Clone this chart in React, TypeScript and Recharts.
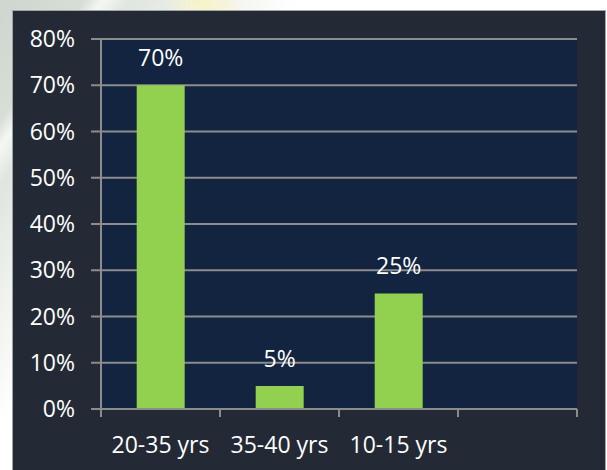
import { BarChart, Bar, XAxis, YAxis, CartesianGrid, LabelList } from 'recharts';

const categories = ['20-35 yrs', '35-40 yrs', '10-15 yrs', ''];
const shares = [70, 5, 25, null];
const yTicks = [0, 10, 20, 30, 40, 50, 60, 70, 80];

const COLORS = {
    frame: '#242a35',
    plot: '#12243f',
    grid: '#8c8c8c',
    bar: '#92d050',
    text: '#ffffff',
};

const FONT = '"Open Sans", "Noto Sans", sans-serif';

// category label plus Excel-style tick marks on the band edges
function CategoryTick(props: any) {
    const { x, y, payload, index, width, visibleTicksCount } = props;
    const band = width / visibleTicksCount;
    const left = x - band / 2;
    const right = x + band / 2;
    const isLast = index === visibleTicksCount - 1;
    return (
        <g>
            <line x1={left} x2={left} y1={y} y2={y + 8} stroke={COLORS.grid} strokeWidth={2} />
            {isLast && <line x1={right} x2={right} y1={y} y2={y + 8} stroke={COLORS.grid} strokeWidth={2} />}
            <text
                x={x}
                y={y + 28}
                dy="0.71em"
                textAnchor="middle"
                fill={COLORS.text}
                fontSize={23}
                fontFamily={FONT}
            >
                {payload.value}
            </text>
        </g>
    );
}

export default function App() {
    const data = categories.map((name, i) => ({ name, value: shares[i] }));

    return (
        <div
            style={{
                position: 'fixed',
                left: 0,
                top: 0,
                width: 607,
                height: 470,
                overflow: 'hidden',
                background:
                    'radial-gradient(ellipse 40px 30px at 205px 5px, rgba(250,245,190,0.8), rgba(255,255,255,0) 100%),' +
                    'linear-gradient(125deg, #cdd6cf 0%, #d6ded5 9%, #f5f7f3 11%, #dfe6de 14%, #eef1ec 22%, #ffffff 32%)',
            }}
        >
            {/* dark frame behind the chart */}
            <div
                style={{
                    position: 'absolute',
                    left: 12,
                    top: 10,
                    width: 592,
                    height: 470,
                    background: COLORS.frame,
                    border: '1px solid #a4a4a4',
                    borderBottom: 'none',
                }}
            />
            <div style={{ position: 'absolute', left: 0, top: 0 }}>
                <BarChart
                    width={607}
                    height={470}
                    data={data}
                    margin={{ top: 39, right: 30, bottom: 21, left: 0 }}
                    barCategoryGap="30%"
                >
                    <CartesianGrid
                        vertical={false}
                        fill={COLORS.plot}
                        fillOpacity={1}
                        stroke={COLORS.grid}
                        strokeWidth={2}
                    />
                    <XAxis
                        dataKey="name"
                        height={40}
                        axisLine={{ stroke: COLORS.grid, strokeWidth: 2 }}
                        tickLine={false}
                        tickSize={0}
                        tickMargin={0}
                        interval={0}
                        tick={<CategoryTick />}
                    />
                    <YAxis
                        width={101}
                        domain={[0, 80]}
                        ticks={yTicks}
                        interval={0}
                        tickFormatter={(v) => `${v}%`}
                        tickSize={10}
                        tickMargin={16}
                        axisLine={{ stroke: COLORS.grid, strokeWidth: 2 }}
                        tickLine={{ stroke: COLORS.grid, strokeWidth: 2 }}
                        tick={{ fill: COLORS.text, fontSize: 23, fontFamily: FONT }}
                    />
                    <Bar dataKey="value" fill={COLORS.bar} isAnimationActive={false}>
                        <LabelList
                            dataKey="value"
                            position="top"
                            offset={19}
                            formatter={(v: any) => (v == null ? '' : `${v}%`)}
                            fill={COLORS.text}
                            fontSize={23}
                            fontFamily={FONT}
                        />
                    </Bar>
                </BarChart>
            </div>
        </div>
    );
}
